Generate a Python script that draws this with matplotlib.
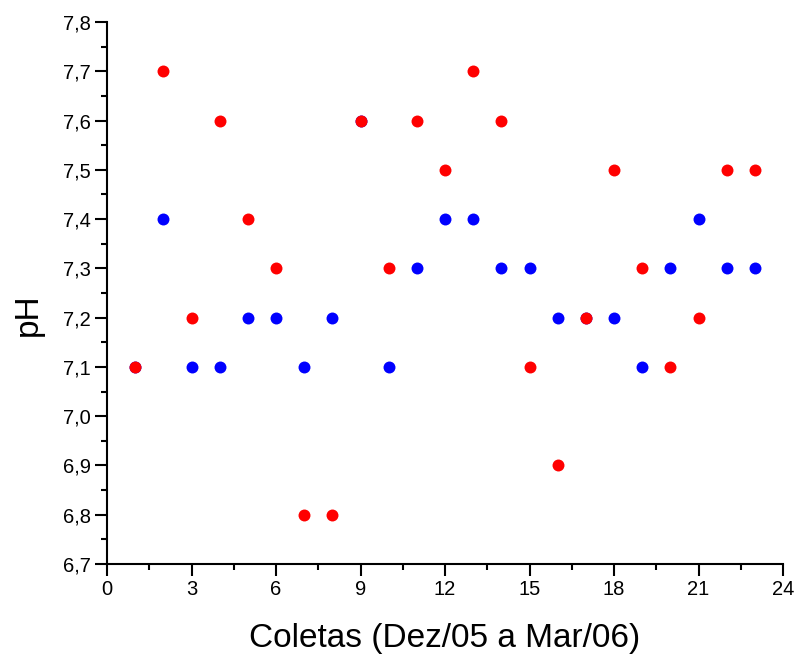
import matplotlib
matplotlib.use("Agg")
from matplotlib import pyplot as plt
from matplotlib.ticker import MultipleLocator, FuncFormatter

plt.rcParams['font.family'] = ['Liberation Sans', 'DejaVu Sans']

coletas = list(range(1, 24))
ph_azul = [7.1, 7.4, 7.1, 7.1, 7.2, 7.2, 7.1, 7.2, 7.6, 7.1, 7.3, 7.4,
           7.4, 7.3, 7.3, 7.2, 7.2, 7.2, 7.1, 7.3, 7.4, 7.3, 7.3]
ph_verm = [7.1, 7.7, 7.2, 7.6, 7.4, 7.3, 6.8, 6.8, 7.6, 7.3, 7.6, 7.5,
           7.7, 7.6, 7.1, 6.9, 7.2, 7.5, 7.3, 7.1, 7.2, 7.5, 7.5]

fig = plt.figure(figsize=(7.99, 6.54), dpi=100)
ax = fig.add_axes([0.134, 0.1376, 0.846, 0.8288])

ax.plot(coletas, ph_azul, 'o', color='blue', ms=8.6, mec='none', clip_on=False)
ax.plot(coletas, ph_verm, 'o', color='red', ms=8.6, mec='none', clip_on=False)

ax.set_xlim(0, 24)
ax.set_ylim(6.7, 7.8)
ax.xaxis.set_major_locator(MultipleLocator(3))
ax.xaxis.set_minor_locator(MultipleLocator(1.5))
ax.yaxis.set_major_locator(MultipleLocator(0.1))
ax.yaxis.set_minor_locator(MultipleLocator(0.05))
ax.yaxis.set_major_formatter(FuncFormatter(lambda v, p: ('%.1f' % v).replace('.', ',')))

for s in ['top', 'right']:
    ax.spines[s].set_visible(False)
for s in ['left', 'bottom']:
    ax.spines[s].set_linewidth(1.5)
ax.tick_params(which='major', direction='out', length=8.5, width=1.5,
               labelsize=14.5, pad=3)
ax.tick_params(which='minor', direction='out', length=4, width=1.5)

ax.set_xlabel('Coletas (Dez/05 a Mar/06)', fontsize=24, labelpad=17)
ax.set_ylabel('pH', fontsize=24)
ax.yaxis.set_label_coords(-0.093, 0.46)

fig.savefig('out.png', dpi=100)
